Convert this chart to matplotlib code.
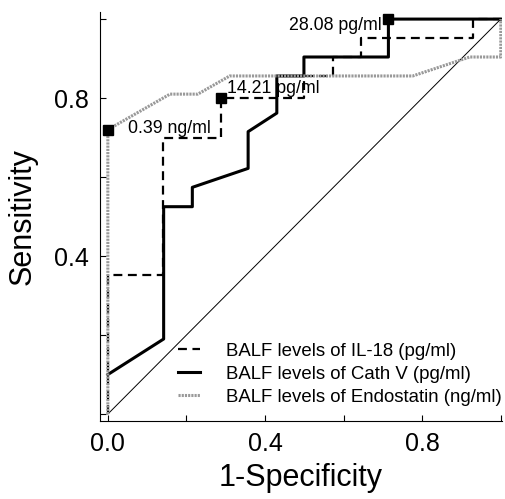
import matplotlib
matplotlib.use('Agg')
import matplotlib.pyplot as plt

plt.rcParams['font.family'] = ['Liberation Sans', 'DejaVu Sans']

# ROC curves (1-specificity, sensitivity)
il18_x = [0.0, 0.0, 0.14, 0.14, 0.287, 0.287, 0.499, 0.499, 0.573, 0.573, 0.644, 0.644, 0.929, 0.929, 1.0]
il18_y = [0.0, 0.352, 0.352, 0.70, 0.70, 0.80, 0.80, 0.856, 0.856, 0.904, 0.904, 0.952, 0.952, 1.0, 1.0]

cath_x = [0.0, 0.142, 0.142, 0.215, 0.215, 0.357, 0.357, 0.43, 0.43, 0.499, 0.499, 0.714, 0.714, 1.0]
cath_y = [0.10, 0.19, 0.525, 0.525, 0.574, 0.622, 0.715, 0.762, 0.856, 0.856, 0.904, 0.904, 1.0, 1.0]

endo_x = [0.0, 0.0, 0.158, 0.229, 0.31, 0.776, 0.921, 1.0, 1.0]
endo_y = [0.0, 0.72, 0.81, 0.81, 0.856, 0.856, 0.904, 0.904, 1.0]

# cut-off points and their labels
cut_x = [0.0, 0.287, 0.714]
cut_y = [0.72, 0.80, 1.0]
cut_labels = ['0.39 ng/ml', '14.21 pg/ml', '28.08 pg/ml']

legend_labels = ['BALF levels of IL-18 (pg/ml)',
                 'BALF levels of Cath V (pg/ml)',
                 'BALF levels of Endostatin (ng/ml)']

fig = plt.figure(figsize=(5.05, 4.99), dpi=100)
ax = fig.add_axes([0.198, 0.156, 0.796, 0.82])

ax.plot([0, 1], [0, 1], color='black', lw=0.7)
l1, = ax.plot(il18_x, il18_y, color='black', lw=1.6, ls=(0, (4, 2.5)))
l2, = ax.plot(cath_x, cath_y, color='black', lw=2.2)
l3, = ax.plot(endo_x, endo_y, color='#999999', lw=2.2, ls=(0, (0.7, 0.35)))

ax.plot(cut_x, cut_y, ls='none', marker='s', ms=7, color='black')

ax.text(0.051, 0.724, cut_labels[0], fontsize=12.8, ha='left', va='center')
ax.text(0.303, 0.825, cut_labels[1], fontsize=12.8, ha='left', va='center')
ax.text(0.697, 0.985, cut_labels[2], fontsize=12.8, ha='right', va='center')

ax.set_xlim(-0.02, 1.003)
ax.set_ylim(-0.018, 1.018)

ticks = [0.0, 0.2, 0.4, 0.6, 0.8, 1.0]
ax.set_xticks(ticks)
ax.set_xticklabels(['0.0', '', '0.4', '', '0.8', ''])
ax.set_yticks(ticks)
ax.set_yticklabels(['', '', '0.4', '', '0.8', ''])
ax.tick_params(direction='in', length=4, width=0.8, labelsize=18, pad=8)

for side in ['top', 'right']:
    ax.spines[side].set_visible(False)
for side in ['left', 'bottom']:
    ax.spines[side].set_linewidth(0.8)

ax.set_xlabel('1-Specificity', fontsize=22, labelpad=5)
ax.set_ylabel('Sensitivity', fontsize=22, labelpad=12)

fig.legend([l1, l2, l3], legend_labels, loc='lower right',
           bbox_to_anchor=(1.012, 0.168), frameon=False, fontsize=13.4,
           handlelength=1.2, handletextpad=1.4, labelspacing=0.32, borderpad=0)

fig.savefig('out.png', dpi=100)
